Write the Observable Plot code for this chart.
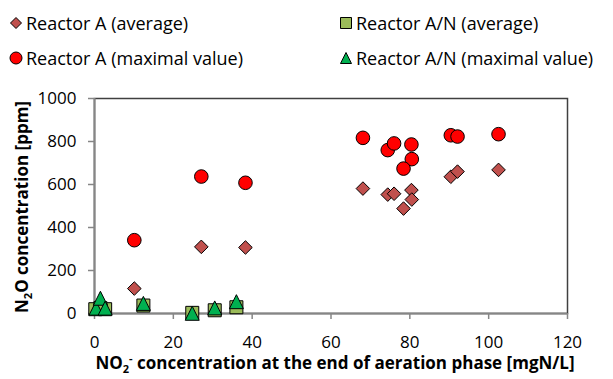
<!DOCTYPE html>
<html><head><meta charset="utf-8">
<script src="https://cdn.jsdelivr.net/npm/d3@7"></script>
<script src="https://cdn.jsdelivr.net/npm/@observablehq/plot@0.6"></script>
<style>
body{margin:0;background:#fff;font-family:"Open Sans",sans-serif;color:#000;}
#legend{position:relative;height:80px;width:613px;}
.item{position:absolute;display:flex;align-items:center;font-size:18px;white-space:nowrap;line-height:22px;}
.item svg{margin-right:3px;overflow:visible}
#chart svg{display:block}
</style></head><body>
<div id="legend"></div>
<div id="chart"></div>
<script>
// ---- data ----
const seriesNames = ["Reactor A (average)", "Reactor A/N (average)", "Reactor A (maximal value)", "Reactor A/N (maximal value)"];
const seriesColors = ["#C0504D", "#9BBB59", "#FF0000", "#00B050"];
const reactorAX    = [10.1, 27.1, 38.3, 68.1, 74.4, 76.0, 80.4, 80.5, 78.4, 90.4, 92.1, 102.5];
const reactorAAvg  = [116, 310, 307, 581, 553, 557, 574, 530, 488, 636, 660, 668];
const reactorAMax  = [341, 637, 608, 817, 760, 791, 786, 718, 674, 829, 823, 834];
const reactorANAvgX = [0.2, 2.7, 1.5, 12.4, 24.8, 30.5, 36.0];
const reactorANAvgY = [20, 20, 25, 37, 3, 15, 29];
const reactorANMaxX = [0.4, 1.5, 2.7, 12.4, 24.8, 30.5, 36.0];
const reactorANMaxY = [25, 71, 25, 47, 1, 26, 55];
const xTicks = [0, 20, 40, 60, 80, 100, 120];
const yTicks = [0, 200, 400, 600, 800, 1000];
const xTitle = ["NO", "2", "-", " concentration at the end of aeration phase [mgN/L]"];
const yTitle = ["N", "2", "O concentration [ppm]"];

// ---- symbols ----
const sym = {
  diamond: {draw(c, size){const r = Math.sqrt(size/Math.PI); c.moveTo(0,-r); c.lineTo(r,0); c.lineTo(0,r); c.lineTo(-r,0); c.closePath();}},
  square: {draw(c, size){const r = Math.sqrt(size/Math.PI); c.rect(-r,-r,2*r,2*r);}},
  triangle: {draw(c, size){const r = Math.sqrt(size/Math.PI); c.moveTo(0,-r); c.lineTo(r,r); c.lineTo(-r,r); c.closePath();}}
};

const aAvg = reactorAX.map((x,i)=>({x, y: reactorAAvg[i]}));
const aMax = reactorAX.map((x,i)=>({x, y: reactorAMax[i]}));
const anAvg = reactorANAvgX.map((x,i)=>({x, y: reactorANAvgY[i]}));
const anMax = reactorANMaxX.map((x,i)=>({x, y: reactorANMaxY[i]}));

// ---- legend ----
const legendPos = [[9,12],[339,12],[9,47],[339,47]];
const legendSym = ["diamond","square","circle","triangle"];
const legend = document.getElementById("legend");
seriesNames.forEach((name,i)=>{
  const d = document.createElement("div");
  d.className = "item";
  d.style.left = legendPos[i][0] + "px";
  d.style.top = legendPos[i][1] + "px";
  const s = d3.create("svg").attr("width",14).attr("height",14);
  const g = s.append("g").attr("transform","translate(7,7)");
  let path;
  if (legendSym[i] === "circle") path = "M6,0A6,6 0 1,1 -6,0A6,6 0 1,1 6,0Z";
  else if (legendSym[i] === "diamond") path = "M0,-5.5L5.5,0L0,5.5L-5.5,0Z";
  else if (legendSym[i] === "square") path = "M-5.5,-5.5H5.5V5.5H-5.5Z";
  else path = "M0,-5.5L5.5,5.5L-5.5,5.5Z";
  g.append("path").attr("d", path).attr("fill", seriesColors[i]).attr("stroke","#000").attr("stroke-width",1);
  d.appendChild(s.node());
  const t = document.createElement("span");
  t.textContent = name;
  d.appendChild(t);
  legend.appendChild(d);
});

// ---- chart ----
const plot = Plot.plot({
  width: 613, height: 299,
  marginTop: 18, marginBottom: 66, marginLeft: 94, marginRight: 46,
  style: {fontFamily: "Open Sans", fontSize: "17px", background: "white", color: "#000"},
  x: {domain: [0, 120]},
  y: {domain: [0, 1000]},
  marks: [
    Plot.frame({stroke: "#404040", strokeWidth: 1.5}),
    Plot.axisX({ticks: xTicks, tickFormat: d => String(d), tickSize: 6, tickPadding: 16, stroke: "#868686", strokeWidth: 1.5, fill: "#000", label: null}),
    Plot.axisY({ticks: yTicks, tickFormat: d => String(d), tickSize: 6, tickPadding: 12, stroke: "#868686", strokeWidth: 1.5, fill: "#000", label: null}),
    Plot.ruleX([0], {stroke: "#868686", strokeWidth: 2}),
    Plot.ruleY([0], {stroke: "#868686", strokeWidth: 2}),
    Plot.dot(aAvg, {x: "x", y: "y", symbol: sym.diamond, r: 6.8, fill: seriesColors[0], stroke: "#000", strokeWidth: 1}),
    Plot.dot(anAvg, {x: "x", y: "y", symbol: sym.square, r: 6.5, fill: seriesColors[1], stroke: "#000", strokeWidth: 1}),
    Plot.dot(aMax, {x: "x", y: "y", r: 6.8, fill: seriesColors[2], stroke: "#000", strokeWidth: 1}),
    Plot.dot(anMax, {x: "x", y: "y", symbol: sym.triangle, r: 7, fill: seriesColors[3], stroke: "#000", strokeWidth: 1})
  ]
});
document.getElementById("chart").appendChild(plot);

const svg = d3.select(plot);
// x title
const xt = svg.append("text").attr("x", 335).attr("y", 289).attr("text-anchor","middle")
  .attr("font-weight","bold").attr("font-size","17px").attr("fill","#000");
xt.append("tspan").text(xTitle[0]);
xt.append("tspan").attr("dy", 4).attr("font-size","11px").text(xTitle[1]);
xt.append("tspan").attr("dy", -11).attr("font-size","11px").text(xTitle[2]);
xt.append("tspan").attr("dy", 7).text(xTitle[3]);
// y title
const yt = svg.append("text").attr("transform","translate(28,127) rotate(-90)").attr("text-anchor","middle")
  .attr("font-weight","bold").attr("font-size","17px").attr("fill","#000");
yt.append("tspan").text(yTitle[0]);
yt.append("tspan").attr("dy", 4).attr("font-size","11px").text(yTitle[1]);
yt.append("tspan").attr("dy", -4).text(yTitle[2]);
</script>
</body></html>
